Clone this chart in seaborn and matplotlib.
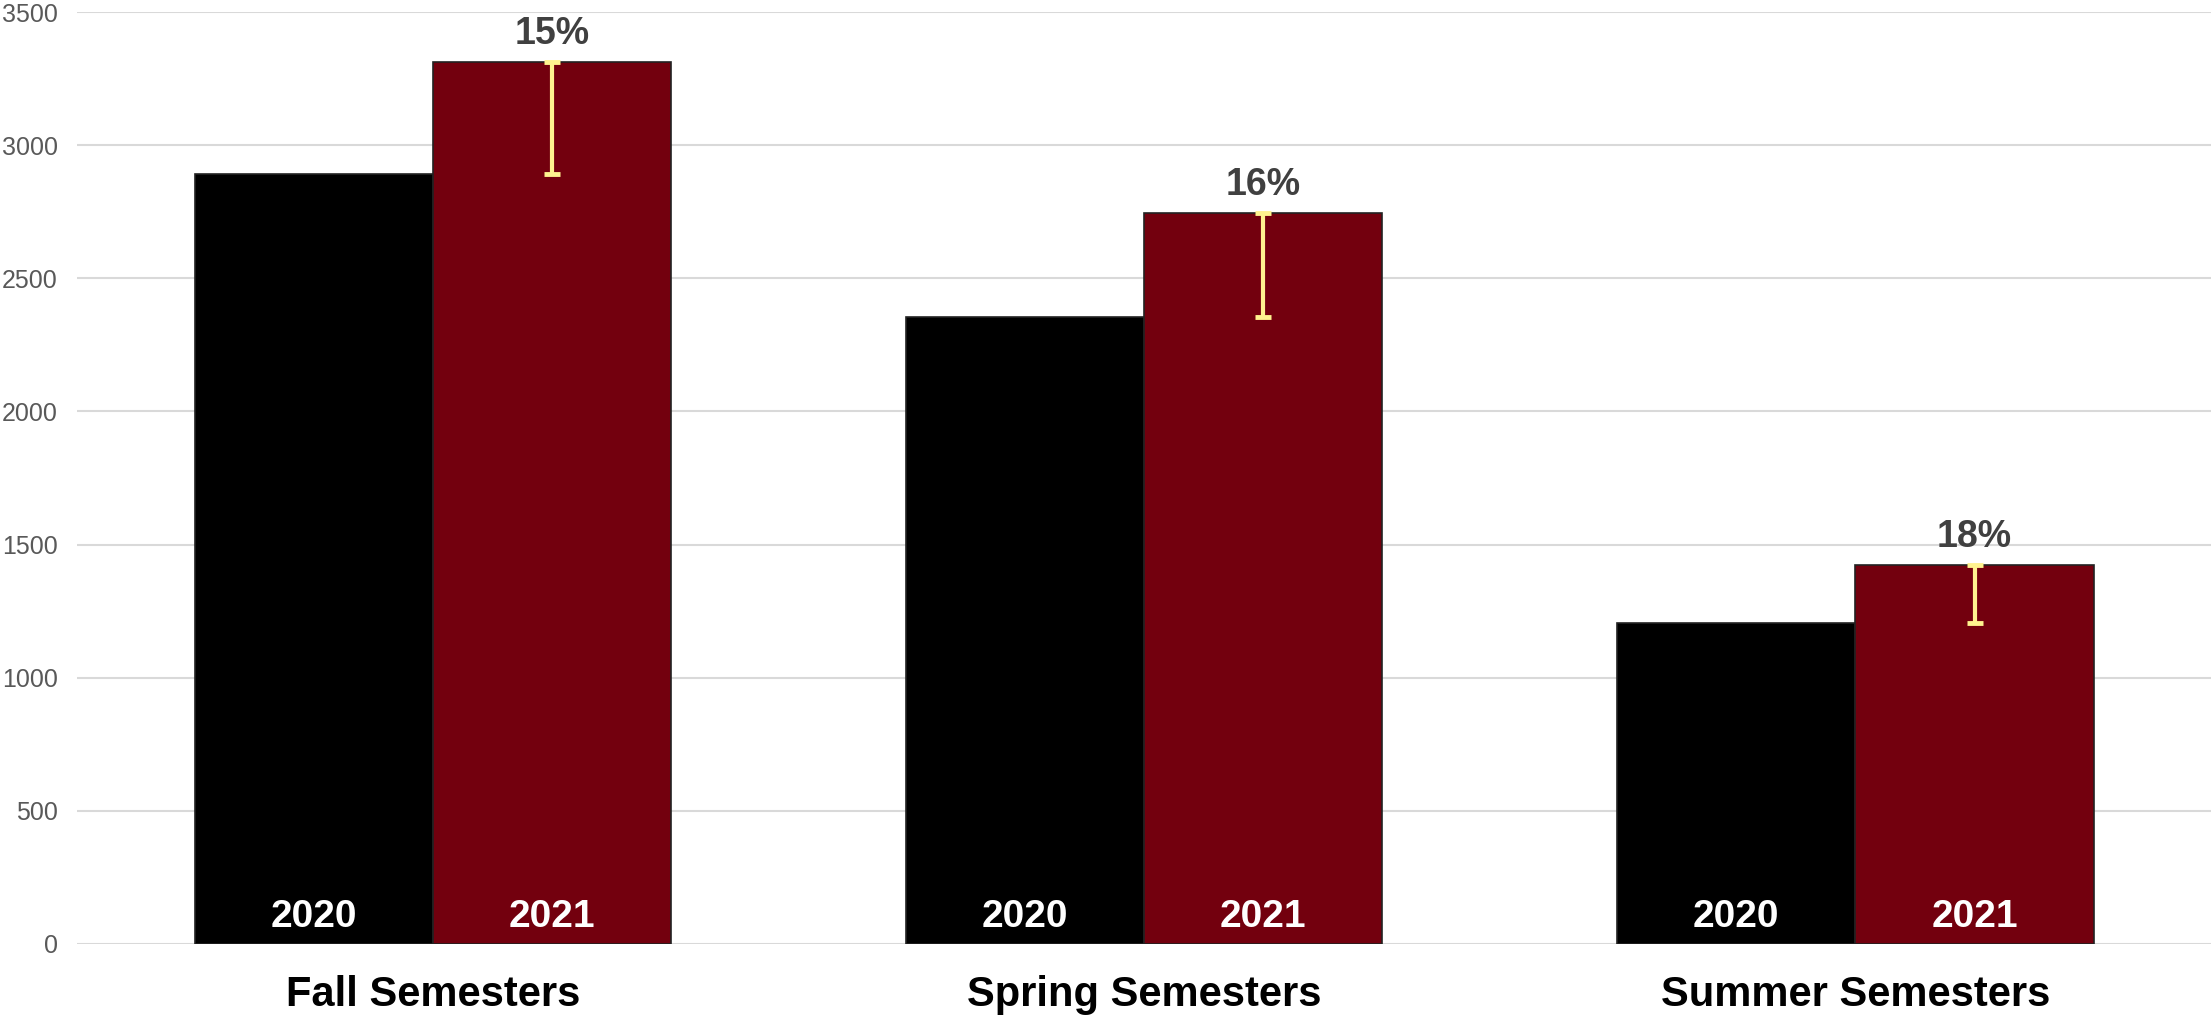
import pandas as pd
import matplotlib.pyplot as plt
import seaborn as sns

semesters = ["Fall Semesters", "Spring Semesters", "Summer Semesters"]
years = ["2020", "2021"]
counts_2020 = [2893, 2354, 1206]
counts_2021 = [3312, 2744, 1423]
pct_change = ["15%", "16%", "18%"]

df = pd.DataFrame({
    "Semester": semesters * 2,
    "Year": [years[0]] * 3 + [years[1]] * 3,
    "Count": counts_2020 + counts_2021,
})

sns.set_style("white")
plt.rcParams['font.family'] = ['Liberation Sans', 'DejaVu Sans']

fig = plt.figure(figsize=(22.11, 10.17), dpi=100)
ax = fig.add_axes([0.035, 0.0718, 0.965, 0.9164])

sns.barplot(data=df, x="Semester", y="Count", hue="Year", order=semesters,
            hue_order=years, palette=["#000000", "#73000e"], width=0.67,
            edgecolor="#222222", linewidth=1.2, saturation=1, legend=False,
            errorbar=None, ax=ax, zorder=3)

ax.set_xlim(-0.5, 2.5)
ax.set_ylim(0, 3500)
ax.set_yticks(range(0, 3501, 500))
ax.yaxis.grid(True, color="#d9d9d9", linewidth=1.5, zorder=0)
ax.set_axisbelow(True)
sns.despine(ax=ax, left=True, bottom=True)
ax.tick_params(axis="y", length=0, labelsize=18, labelcolor="#595959", pad=14)
ax.tick_params(axis="x", length=0, labelsize=30, labelcolor="black", pad=22)
for lbl in ax.get_xticklabels():
    lbl.set_fontweight("bold")
ax.set_xlabel("")
ax.set_ylabel("")

# year labels inside the bars
for cont, yr in zip(ax.containers, years):
    for p in cont:
        ax.text(p.get_x() + p.get_width() / 2, 65, yr, ha="center", va="baseline",
                color="white", fontsize=28, fontweight="bold", zorder=5)

# change whiskers and percent labels on the 2021 bars
for p, lo, hi, pct in zip(ax.containers[1], counts_2020, counts_2021, pct_change):
    cx = p.get_x() + p.get_width() / 2
    ax.errorbar(cx, hi, yerr=[[hi - lo], [0]], fmt="none", ecolor="#fff38f",
                elinewidth=3, capsize=6, capthick=3.5, zorder=4)
    ax.text(cx, hi + 68, pct, ha="center", va="baseline", color="#404040",
            fontsize=27, fontweight="bold", zorder=5)

plt.savefig("out.png", dpi=100)
